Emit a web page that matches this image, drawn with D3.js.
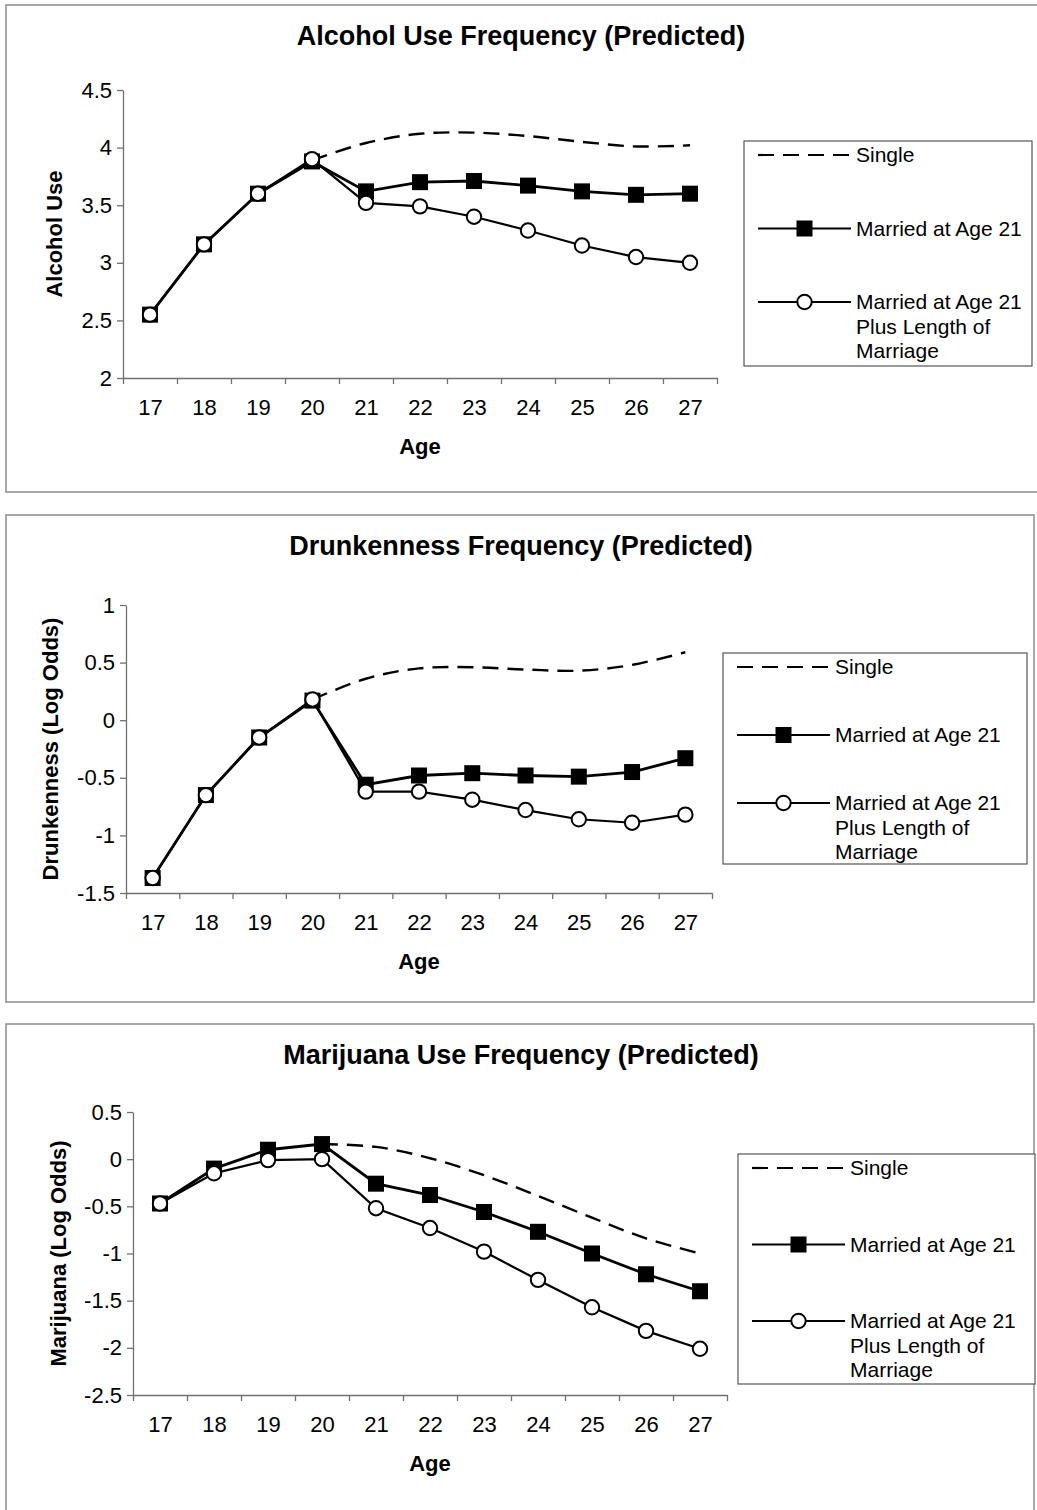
<!DOCTYPE html>
<html>
<head>
<meta charset="utf-8">
<script src="https://cdn.jsdelivr.net/npm/d3@7"></script>
<style>
  body { margin: 0; background: #fff; }
  svg { font-family: "Liberation Sans", Arial, sans-serif; }
</style>
</head>
<body>
<svg id="chart" width="1037" height="1510"></svg>
<script>
const ages = [17, 18, 19, 20, 21, 22, 23, 24, 25, 26, 27];
const seriesNames = ["Single", "Married at Age 21", "Married at Age 21|Plus Length of|Marriage"];

// alcohol use
const alcoholSingle = [2.55, 3.16, 3.60, 3.89, 4.04, 4.12, 4.13, 4.10, 4.05, 4.01, 4.02];
const alcoholMarried = [2.55, 3.16, 3.60, 3.88, 3.62, 3.70, 3.71, 3.67, 3.62, 3.59, 3.60];
const alcoholLength = [2.55, 3.16, 3.60, 3.90, 3.52, 3.49, 3.40, 3.28, 3.15, 3.05, 3.00];
const alcoholTicks = [2, 2.5, 3, 3.5, 4, 4.5];

// drunkenness (log odds)
const drunkSingle = [-1.37, -0.65, -0.15, 0.18, 0.36, 0.45, 0.46, 0.44, 0.43, 0.48, 0.59];
const drunkMarried = [-1.37, -0.65, -0.15, 0.17, -0.56, -0.48, -0.46, -0.48, -0.49, -0.45, -0.33];
const drunkLength = [-1.37, -0.65, -0.15, 0.18, -0.62, -0.62, -0.69, -0.78, -0.86, -0.89, -0.82];
const drunkTicks = [-1.5, -1, -0.5, 0, 0.5, 1];

// marijuana (log odds)
const mjSingle = [-0.47, -0.12, 0.08, 0.16, 0.13, 0.01, -0.17, -0.39, -0.62, -0.84, -1.00];
const mjMarried = [-0.47, -0.10, 0.10, 0.16, -0.26, -0.38, -0.56, -0.77, -1.00, -1.22, -1.40];
const mjLength = [-0.47, -0.15, -0.01, 0.00, -0.52, -0.73, -0.98, -1.28, -1.57, -1.82, -2.01];
const mjTicks = [-2.5, -2, -1.5, -1, -0.5, 0, 0.5];

const svg = d3.select("#chart");
const SQ = 16, R = 7.2;

function drawPanel(p) {
    const g = svg.append("g");

    g.append("rect")
        .attr("x", p.box[0]).attr("y", p.box[1])
        .attr("width", p.box[2]).attr("height", p.box[3])
        .attr("fill", "none").attr("stroke", "#8c8c8c").attr("stroke-width", 1.5);

    g.append("text")
        .attr("x", 521).attr("y", p.box[1] + 40)
        .attr("text-anchor", "middle")
        .style("font-size", "27px").style("font-weight", "bold")
        .text(p.title);

    const x = d3.scaleLinear().domain([16.5, 27.5]).range([p.left, p.right]);
    const y = d3.scaleLinear().domain(d3.extent(p.ticks)).range([p.bottom, p.top]);

    // x axis: ticks between categories, labels centred
    const xAxis = g.append("g")
        .attr("transform", `translate(0,${p.bottom})`)
        .call(d3.axisBottom(x).tickValues(d3.range(16.5, 28, 1)).tickFormat("").tickSize(6).tickSizeOuter(0));
    xAxis.selectAll("line, path").attr("stroke", "#707070").attr("stroke-width", 1.3);

    const xLabels = g.append("g")
        .attr("transform", `translate(0,${p.bottom})`)
        .call(d3.axisBottom(x).tickValues(ages).tickFormat(d3.format("d")).tickSize(0).tickPadding(21));
    xLabels.select(".domain").remove();
    xLabels.selectAll("text").attr("font-family", null).style("font-size", "22px").attr("fill", "#000");

    const yAxis = g.append("g")
        .attr("transform", `translate(${p.left},0)`)
        .call(d3.axisLeft(y).tickValues(p.ticks).tickFormat(d => d).tickSize(6).tickSizeOuter(0).tickPadding(5));
    yAxis.selectAll("line, path").attr("stroke", "#707070").attr("stroke-width", 1.3);
    yAxis.selectAll("text").attr("font-family", null).style("font-size", "22px").attr("fill", "#000");

    g.append("text")
        .attr("x", (p.left + p.right) / 2).attr("y", p.bottom + 76)
        .attr("text-anchor", "middle")
        .style("font-size", "22px").style("font-weight", "bold")
        .text("Age");

    g.append("text")
        .attr("transform", `translate(${p.ylabelX},${(p.top + p.bottom) / 2}) rotate(-90)`)
        .attr("text-anchor", "middle")
        .attr("dy", "0.35em")
        .style("font-size", "22px").style("font-weight", "bold")
        .text(p.ylabel);

    const straight = d3.line().x((d, i) => x(ages[i])).y(d => y(d));

    // single: dashed smoothed line, drawn from age 20 on (earlier part is hidden under the others)
    const singleLine = d3.line()
        .x((d, i) => x(ages[i + 3])).y(d => y(d))
        .curve(d3.curveCatmullRom.alpha(0.5));
    g.append("path")
        .attr("d", singleLine(p.single.slice(3)))
        .attr("fill", "none").attr("stroke", "#000")
        .attr("stroke-width", 2.4).attr("stroke-dasharray", "16,9");

    g.append("path")
        .attr("d", straight(p.married))
        .attr("fill", "none").attr("stroke", "#000").attr("stroke-width", 2.8);
    g.append("path")
        .attr("d", straight(p.length))
        .attr("fill", "none").attr("stroke", "#000").attr("stroke-width", 2.2);

    g.selectAll(".sq")
        .data(p.married)
        .join("rect")
        .attr("x", (d, i) => x(ages[i]) - SQ / 2).attr("y", d => y(d) - SQ / 2)
        .attr("width", SQ).attr("height", SQ)
        .attr("fill", "#000");

    g.selectAll(".ci")
        .data(p.length)
        .join("circle")
        .attr("cx", (d, i) => x(ages[i])).attr("cy", d => y(d))
        .attr("r", R)
        .attr("fill", "#fff").attr("stroke", "#000").attr("stroke-width", 2);

    // legend
    const lg = p.legend;
    g.append("rect")
        .attr("x", lg.x).attr("y", lg.y).attr("width", lg.w).attr("height", lg.h)
        .attr("fill", "#fff").attr("stroke", "#555").attr("stroke-width", 1.2);
    const lx0 = lg.x + 14, lx1 = lg.x + 107, tx = lg.x + 112;
    seriesNames.forEach((name, k) => {
        const yy = lg.y + 14 + k * lg.gap;
        const line = g.append("line")
            .attr("x1", lx0).attr("x2", lx1).attr("y1", yy).attr("y2", yy)
            .attr("stroke", "#000").attr("stroke-width", 2.2);
        if (k === 0) line.attr("stroke-dasharray", "16,9");
        const mx = (lx0 + lx1) / 2;
        if (k === 1) {
            g.append("rect").attr("x", mx - SQ / 2).attr("y", yy - SQ / 2)
                .attr("width", SQ).attr("height", SQ).attr("fill", "#000");
        }
        if (k === 2) {
            g.append("circle").attr("cx", mx).attr("cy", yy).attr("r", R)
                .attr("fill", "#fff").attr("stroke", "#000").attr("stroke-width", 2);
        }
        name.split("|").forEach((t, j) => {
            g.append("text")
                .attr("x", tx).attr("y", yy + j * 24.5)
                .attr("dy", "0.35em")
                .style("font-size", "21px")
                .text(t);
        });
    });
}

drawPanel({
    box: [6, 5, 1040, 487],
    title: "Alcohol Use Frequency (Predicted)",
    ylabel: "Alcohol Use",
    ylabelX: 54,
    left: 123, right: 717, top: 90, bottom: 378,
    ticks: alcoholTicks,
    single: alcoholSingle, married: alcoholMarried, length: alcoholLength,
    legend: { x: 744, y: 141, w: 288, h: 225, gap: 73.5 }
});

drawPanel({
    box: [6, 515, 1028, 487],
    title: "Drunkenness Frequency (Predicted)",
    ylabel: "Drunkenness (Log Odds)",
    ylabelX: 50,
    left: 126, right: 712, top: 605, bottom: 893,
    ticks: drunkTicks,
    single: drunkSingle, married: drunkMarried, length: drunkLength,
    legend: { x: 723, y: 653, w: 304, h: 211, gap: 68 }
});

drawPanel({
    box: [6, 1024, 1028, 490],
    title: "Marijuana Use Frequency (Predicted)",
    ylabel: "Marijuana (Log Odds)",
    ylabelX: 58,
    left: 133, right: 727, top: 1112, bottom: 1395,
    ticks: mjTicks,
    single: mjSingle, married: mjMarried, length: mjLength,
    legend: { x: 738, y: 1154, w: 297, h: 230, gap: 76.5 }
});
</script>
</body>
</html>
